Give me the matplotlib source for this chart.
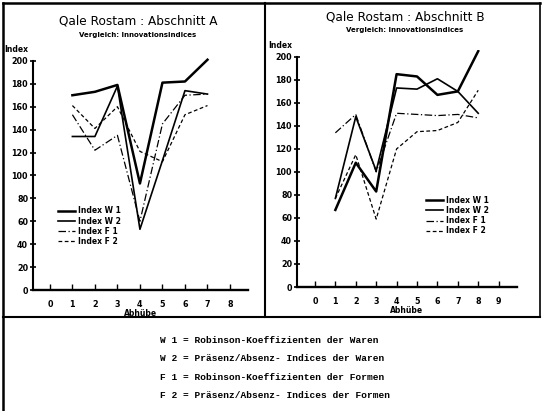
import matplotlib
matplotlib.use("Agg")
import matplotlib.pyplot as plt
from matplotlib.lines import Line2D

# ---- data ----
series_names = ["Index W 1", "Index W 2", "Index F 1", "Index F 2"]

a_x = [1, 2, 3, 4, 5, 6, 7]
a_w1 = [170, 173, 179, 93, 181, 182, 201]
a_w2 = [134, 134, 178, 53, 113, 174, 171]
a_f1 = [153, 122, 135, 60, 145, 170, 171]
a_f2 = [161, 141, 160, 121, 112, 153, 161]

b_x = [1, 2, 3, 4, 5, 6, 7, 8]
b_w1 = [67, 108, 83, 185, 183, 167, 170, 205]
b_w2 = [77, 148, 101, 173, 172, 181, 170, 151]
b_f1 = [134, 150, 100, 151, 150, 149, 150, 147]
b_f2 = [77, 115, 59, 120, 135, 136, 143, 171]

y_ticks = [0, 20, 40, 60, 80, 100, 120, 140, 160, 180, 200]
a_xticks = [0, 1, 2, 3, 4, 5, 6, 7, 8]
b_xticks = [0, 1, 2, 3, 4, 5, 6, 7, 8, 9]

footnotes = [
    "W 1 = Robinson-Koeffizienten der Waren",
    "W 2 = Präsenz/Absenz- Indices der Waren",
    "F 1 = Robinson-Koeffizienten der Formen",
    "F 2 = Präsenz/Absenz- Indices der Formen",
]

styles = [
    dict(color="black", lw=1.8, ls="-"),
    dict(color="black", lw=1.2, ls="-"),
    dict(color="black", lw=0.9, ls=(0, (6, 2, 1, 2))),
    dict(color="black", lw=0.9, ls=(0, (3, 2))),
]

W, H = 542, 411
fig = plt.figure(figsize=(W / 100, H / 100), dpi=100)
fig.patch.set_facecolor("white")


def px(x0, y0, x1, y1):
    return [x0 / W, 1 - y1 / H, (x1 - x0) / W, (y1 - y0) / H]


def panel(rect, xs, data, xticks, xlim, legend_anchor):
    ax = fig.add_axes(rect)
    for vals, st, name in zip(data, styles, series_names):
        ax.plot(xs, vals, label=name, **st)
    ax.set_xlim(*xlim)
    ax.set_ylim(0, 206)
    for s in ["top", "right"]:
        ax.spines[s].set_visible(False)
    ax.spines["left"].set_bounds(0, 200)
    ax.spines["left"].set_linewidth(1.5)
    ax.spines["bottom"].set_linewidth(1.7)
    ax.set_yticks(y_ticks)
    ax.set_yticklabels([str(v) for v in y_ticks], fontsize=5.8, fontweight="bold")
    ax.set_xticks(xticks)
    ax.set_xticklabels([str(v) for v in xticks], fontsize=5.8, fontweight="bold")
    ax.tick_params(axis="y", direction="inout", length=5, width=1.2, pad=1)
    ax.tick_params(axis="x", direction="in", length=4, width=1.0, pad=7)
    ax.set_xlabel("Abhübe", fontsize=5.5, fontweight="bold", labelpad=0)
    ax.text(-0.02, 1.0, "Index", transform=ax.transAxes, fontsize=5.5,
            fontweight="bold", ha="right", va="bottom")
    leg = ax.legend(loc="upper left", bbox_to_anchor=legend_anchor, frameon=False,
                    fontsize=5.5, handlelength=2.2, handletextpad=0.4,
                    labelspacing=0.15, borderpad=0)
    for t in leg.get_texts():
        t.set_fontweight("bold")
    return ax


axA = panel(px(33, 54, 248, 290), a_x, [a_w1, a_w2, a_f1, a_f2], a_xticks,
            (-0.75, 8.8), (0.1, 0.37))
axB = panel(px(297, 50, 517, 287), b_x, [b_w1, b_w2, b_f1, b_f2], b_xticks,
            (-0.88, 9.9), (0.57, 0.4))

# titles
fig.text(138 / W, 1 - 21 / H, "Qale Rostam : Abschnitt A", fontsize=8.7,
         ha="center", va="center")
fig.text(138 / W, 1 - 35 / H, "Vergleich: Innovationsindices", fontsize=5,
         fontweight="bold", ha="center", va="center")
fig.text(405 / W, 1 - 17 / H, "Qale Rostam : Abschnitt B", fontsize=8.7,
         ha="center", va="center")
fig.text(405 / W, 1 - 30 / H, "Vergleich: Innovationsindices", fontsize=5,
         fontweight="bold", ha="center", va="center")

# frame lines
def fline(x0, y0, x1, y1, lw=1.5):
    fig.add_artist(Line2D([x0 / W, x1 / W], [1 - y0 / H, 1 - y1 / H],
                          color="black", lw=lw))

fline(3, 3, 540, 3, 1.8)
fline(3, 3, 3, 411, 1.8)
fline(540, 3, 540, 317, 1.2)
fline(265, 3, 265, 317, 1.5)
fline(3, 317, 540, 317, 1.5)

# footnotes
for i, line in enumerate(footnotes):
    fig.text(160 / W, 1 - (340 + i * 18.5) / H, line, fontsize=6.8,
             family="Liberation Mono", fontweight="bold", ha="left", va="center")

fig.savefig("out.png", dpi=100)
